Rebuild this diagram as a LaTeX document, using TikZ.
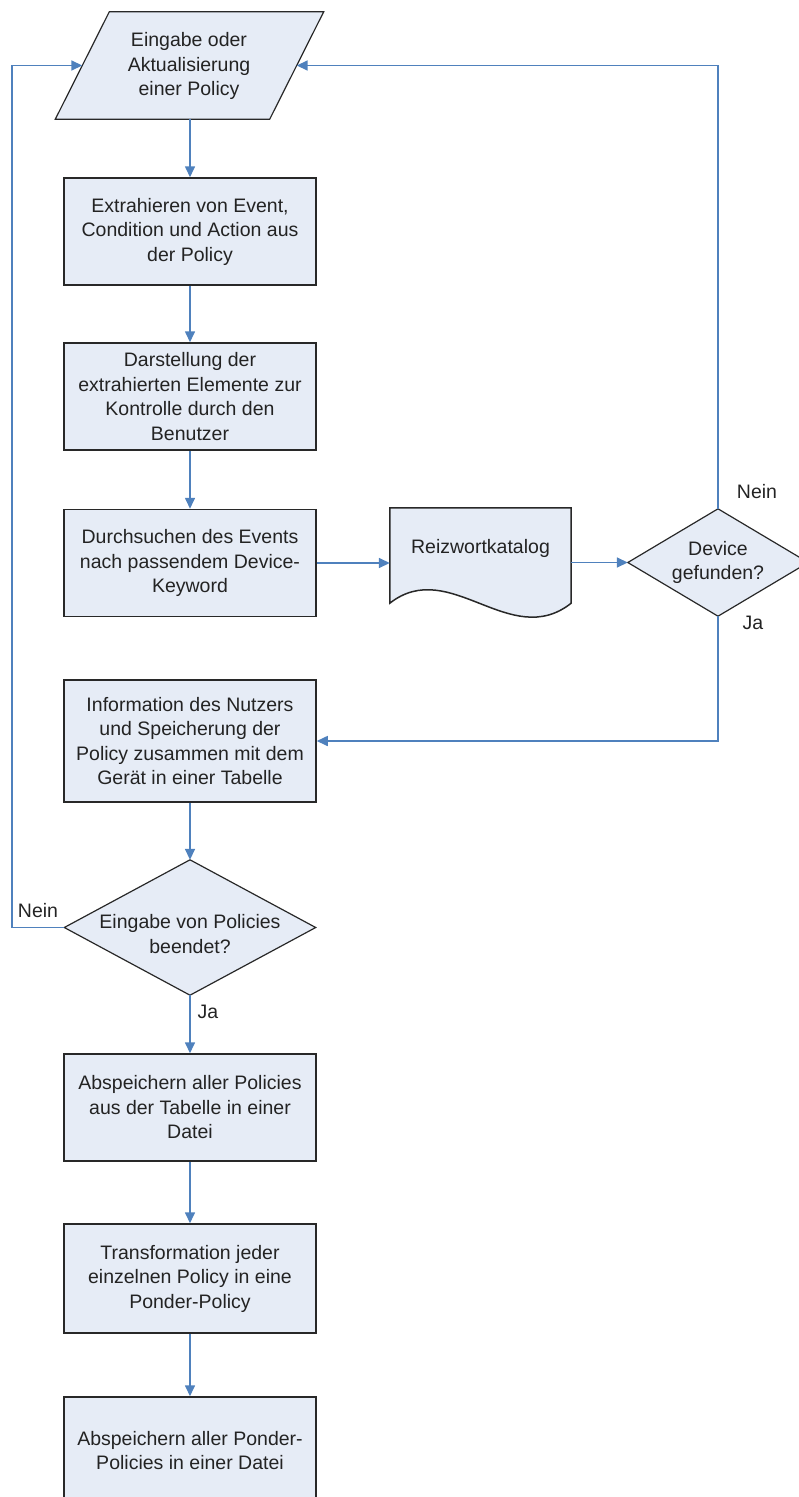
\documentclass[tikz,border=0pt]{standalone}
\usepackage{fontspec}
\setmainfont{Liberation Sans}
\usetikzlibrary{arrows.meta}
\definecolor{boxfill}{RGB}{230,236,246}
\definecolor{flowblue}{RGB}{79,129,189}
\definecolor{edgegray}{RGB}{40,40,40}
\definecolor{txt}{RGB}{35,35,35}

\begin{document}
\begin{tikzpicture}[x=1pt,y=-1pt,
  every node/.style={font=\fontsize{19.5}{24.5}\selectfont, text=txt},
  stepbox/.style={draw=edgegray, line width=1.5pt, fill=boxfill,
    minimum width=252pt, minimum height=107pt, align=center, inner sep=0pt},
  frame/.style={minimum width=#1, inner sep=0pt},
  outline/.style={draw=edgegray, line width=1.2pt, fill=boxfill, line join=miter},
  flow/.style={draw=flowblue, line width=1.6pt, -{Triangle[length=11pt,width=10pt]}},
  lbl/.style={inner sep=1pt}]

\useasboundingbox (0,0) rectangle (799,1497);
\clip (0,0) rectangle (799,1497);

% input parallelogram: frame spans the mid-height width of the slanted sides
\node[frame=214pt, minimum height=107pt] (inp) at (189.5,65.5) {};
\draw[outline] ([xshift=27pt]inp.north west) -- ([xshift=27pt]inp.north east)
  -- ([xshift=-27pt]inp.south east) -- ([xshift=-27pt]inp.south west) -- cycle;
\node[align=center] (inptext) at (189,66) {Eingabe oder\\Aktualisierung\\einer Policy};

% process steps
\node[stepbox] (b1) at (190,231.5) {Extrahieren von Event,\\Condition und Action aus\\der Policy};
\node[stepbox] (b2) at (190,396.5) {Darstellung der\\extrahierten Elemente zur\\Kontrolle durch den\\Benutzer};
\node[stepbox] (b3) at (190,563) {Durchsuchen des Events\\nach passendem Device-\\Keyword};

% keyword catalogue (document symbol)
\node[frame=181pt, minimum height=95pt] (kat) at (480.5,555.5) {};
\draw[outline, line width=1.5pt]
  (kat.south west) -- (kat.north west) -- (kat.north east) -- (kat.south east)
  .. controls ([xshift=-61pt,yshift=-48pt]kat.south east) and ([xshift=60pt,yshift=47pt]kat.south west) .. (kat.south west) -- cycle;
\node (kattext) at (480.5,548) {Reizwortkatalog};

% decision: device found?
\node[frame=180pt, minimum height=107pt] (dev) at (718,562.5) {};
\draw[outline] (dev.north) -- (dev.east) -- (dev.south) -- (dev.west) -- cycle;
\node[align=center] (devtext) at (718,562.5) {Device\\gefunden?};

\node[stepbox, minimum height=122pt] (b4) at (190,741) {Information des Nutzers\\und Speicherung der\\Policy zusammen mit dem\\Gerät in einer Tabelle};

% decision: input finished?
\node[frame=251pt, minimum height=135pt] (dec) at (190,927.5) {};
\draw[outline] (dec.north) -- (dec.east) -- (dec.south) -- (dec.west) -- cycle;
\node[align=center] (dectext) at (190,934) {Eingabe von Policies\\beendet?};

\node[stepbox] (b5) at (190,1107.5) {Abspeichern aller Policies\\aus der Tabelle in einer\\Datei};
\node[stepbox, minimum height=109pt] (b6) at (190,1278.5) {Transformation jeder\\einzelnen Policy in eine\\Ponder-Policy};
\node[stepbox] (b7) at (190,1450.5) {Abspeichern aller Ponder-\\Policies in einer Datei};

% branch labels
\node[lbl] (devno) at (757,492) {Nein};
\node[lbl] (devyes) at (753,623) {Ja};
\node[lbl] (decno) at (38,911) {Nein};
\node[lbl] (decyes) at (208,1012) {Ja};

\coordinate (loopx) at (12,0);

% connectors
\draw[flow] (inp.south -| b1.north) -- (b1.north);
\draw[flow] (b1.south) -- (b2.north);
\draw[flow] (b2.south) -- (b3.north);
\draw[flow] (b3.east) -- (b3.east -| kat.west);
\draw[flow] (kat.east |- dev.west) -- (dev.west);
\draw[flow] (dev.north) -- (dev.north |- inp.east) -- (inp.east);
\draw[flow] (dev.south) -- (dev.south |- b4.east) -- (b4.east);
\draw[flow] (b4.south) -- (dec.north);
\draw[flow] (dec.west) -- (dec.west -| loopx) -- (loopx |- inp.west) -- (inp.west);
\draw[flow] (dec.south) -- (b5.north);
\draw[flow] (b5.south) -- (b6.north);
\draw[flow] (b6.south) -- (b7.north);

\end{tikzpicture}
\end{document}
